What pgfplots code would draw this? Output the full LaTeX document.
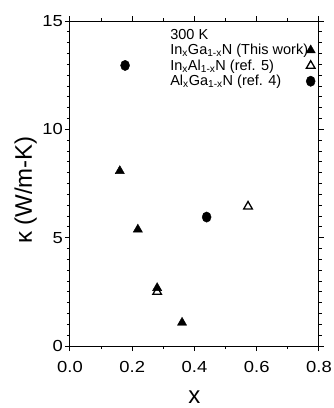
\documentclass[border=0pt]{standalone}
\usepackage{pgfplots}
\pgfplotsset{compat=1.18}
\usepackage{fontspec}
\setmainfont{Liberation Sans}
\newfontfamily\tickfont[FakeStretch=1.15]{Liberation Sans}
\begin{document}
\begin{tikzpicture}
\useasboundingbox (-70pt,-62pt) rectangle (264pt,346pt);
\begin{axis}[
  at={(0,0)}, anchor=south west,
  scale only axis,
  width=249pt, height=325pt,
  xmin=0, xmax=0.8, ymin=0, ymax=15,
  xtick={0,0.2,0.4,0.6,0.8},
  ytick={0,5,10,15},
  minor xtick={0.1,0.3,0.5,0.7},
  minor ytick={0.5,1,...,14.5},
  tick align=outside,
  major tick length=5pt,
  minor tick length=3pt,
  xtick pos=both, ytick pos=both,
  tick style={draw=black, line width=1pt},
  axis line style={line width=1pt},
  /pgf/number format/assume math mode=true,
  xticklabel style={font=\tickfont\fontsize{16}{18}\selectfont, /pgf/number format/fixed, /pgf/number format/fixed zerofill, /pgf/number format/precision=1, inner sep=1pt, yshift=-9pt},
  yticklabel style={font=\tickfont\fontsize{16}{18}\selectfont, inner sep=1pt, xshift=-1pt},
  xlabel={x},
  xlabel style={font=\fontsize{24}{26}\selectfont, at={(0.5,0)}, anchor=base, yshift=-57pt, inner sep=0pt},
  ylabel={κ (W/m-K)},
  ylabel style={font=\fontsize{24}{26}\selectfont, at={([xshift=-33pt]axis description cs:0,0.48)}, anchor=south, inner sep=0pt},
  legend style={draw=none, fill=none, at={(0.39,0.985)}, anchor=north west,
    font=\fontsize{14.5}{16.5}\selectfont, row sep=-0.5pt, inner sep=1pt,
    nodes={inner sep=2pt}, /tikz/column sep=-4pt},
  legend plot pos=right,
  legend cell align=left,
  legend image code/.code={\draw[#1] plot coordinates {(0cm,0cm)};},
]
\addlegendimage{empty legend}
\addlegendentry{300 K}
\addplot[only marks, mark=triangle*, mark size=5.3pt, black] coordinates {
  (0.16,8.08) (0.218,5.38) (0.28,2.68) (0.36,1.08)
};
\addlegendentry{In\textsubscript{x}Ga\textsubscript{1-x}N (This work)}
\addplot[only marks, mark=triangle, mark size=5pt, black, line width=1.3pt] coordinates {
  (0.28,2.5) (0.572,6.44)
};
\addlegendentry{In\textsubscript{x}Al\textsubscript{1-x}N (ref. 5)}
\addplot[only marks, mark=*, mark size=4.5pt, black, mark options={yscale=1.15}] coordinates {
  (0.177,12.95) (0.439,5.95)
};
\addlegendentry{Al\textsubscript{x}Ga\textsubscript{1-x}N (ref. 4)}
\end{axis}
\end{tikzpicture}
\end{document}
